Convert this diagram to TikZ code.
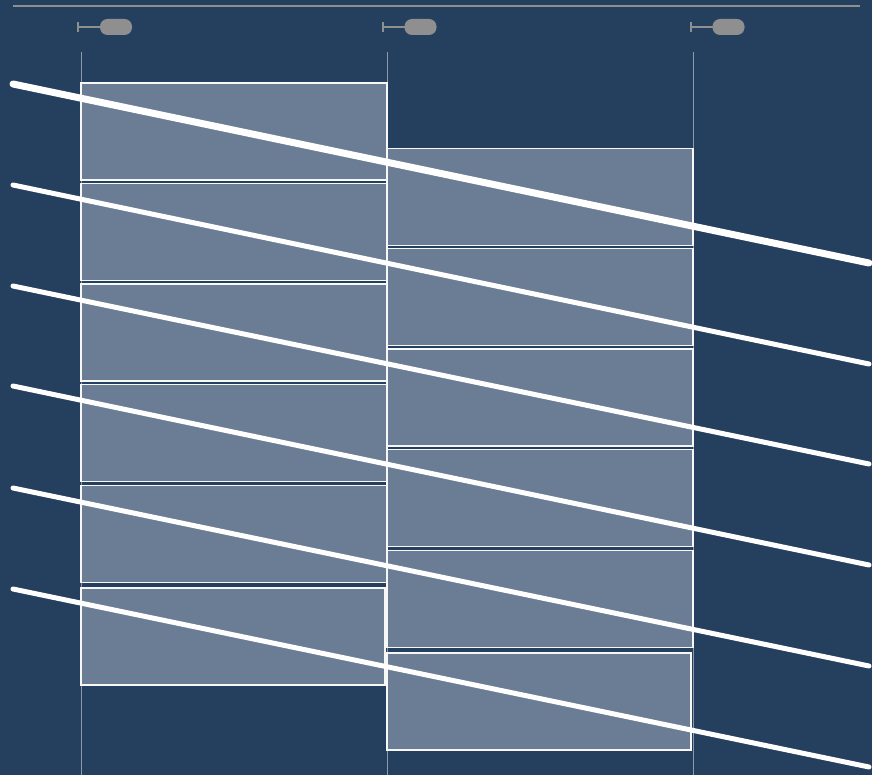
\documentclass[tikz,border=0pt]{standalone}
\definecolor{bgc}{HTML}{253F5F}
\definecolor{boxc}{HTML}{6B7D95}
\definecolor{guide}{HTML}{8C9AAB}
\definecolor{iconc}{HTML}{8F8F8F}
\begin{document}
\begin{tikzpicture}[x=1pt,y=-1pt,
  cell/.style={draw=white!94!gray, fill=boxc, line width=1.3pt, inner sep=0pt, outer sep=0pt, anchor=north west, minimum height=97pt},
  guideline/.style={draw=guide, line width=1pt},
  slash/.style={draw=white, line width=5pt, line cap=round},
  pill/.style={fill=iconc, rounded corners=7.5pt, inner sep=0pt, outer sep=0pt, minimum width=32pt, minimum height=16pt},
  stem/.style={draw=iconc, line width=1.3pt}]
\fill[bgc] (0,0) rectangle (872,775);
\useasboundingbox (0,0) rectangle (872,775);
% top rule
\coordinate (tl) at (13,6); \coordinate (tr) at (860,6);
\draw[draw=iconc, line width=2pt] (tl) -- (tr);
% icons
\foreach \n/\tx/\px in {a/78/116, b/383/420.5, c/691/728.5}{
  \node[pill] (p\n) at (\px,27) {};
  \coordinate (t\n) at (\tx,27);
  \draw[stem] (t\n) -- (p\n.west);
  \draw[stem] ([yshift=-5pt]t\n) -- ([yshift=5pt]t\n);
}
% guides
\foreach \n/\x in {1/81,2/387,3/693}{
  \coordinate (g\n a) at (\x,52); \coordinate (g\n b) at (\x,775);
  \draw[guideline] (g\n a) -- (g\n b);
}
% column 1
\node[cell, minimum width=306pt] (c1r1) at (81,83) {};
\node[cell, minimum width=306pt] (c1r2) at (81,183.5) {};
\node[cell, minimum width=306pt] (c1r3) at (81,284) {};
\node[cell, minimum width=306pt] (c1r4) at (81,384.5) {};
\node[cell, minimum width=306pt] (c1r5) at (81,485.5) {};
\node[cell, minimum width=304pt] (c1r6) at (81,588) {};
% column 2
\node[cell, minimum width=306pt] (c2r1) at (387,148.5) {};
\node[cell, minimum width=306pt] (c2r2) at (387,248.5) {};
\node[cell, minimum width=306pt] (c2r3) at (387,349) {};
\node[cell, minimum width=306pt] (c2r4) at (387,449.5) {};
\node[cell, minimum width=306pt] (c2r5) at (387,550.5) {};
\node[cell, minimum width=304pt] (c2r6) at (387,653) {};
% slashes
\foreach \n/\ya/\yb/\w in {1/84/263/7, 2/185/364/5, 3/286/464/5, 4/386/565/5, 5/488/666/5, 6/589/767/5}{
  \coordinate (s\n a) at (13,\ya); \coordinate (s\n b) at (869,\yb);
  \draw[slash, line width=\w pt] (s\n a) -- (s\n b);
}
\end{tikzpicture}
\end{document}
